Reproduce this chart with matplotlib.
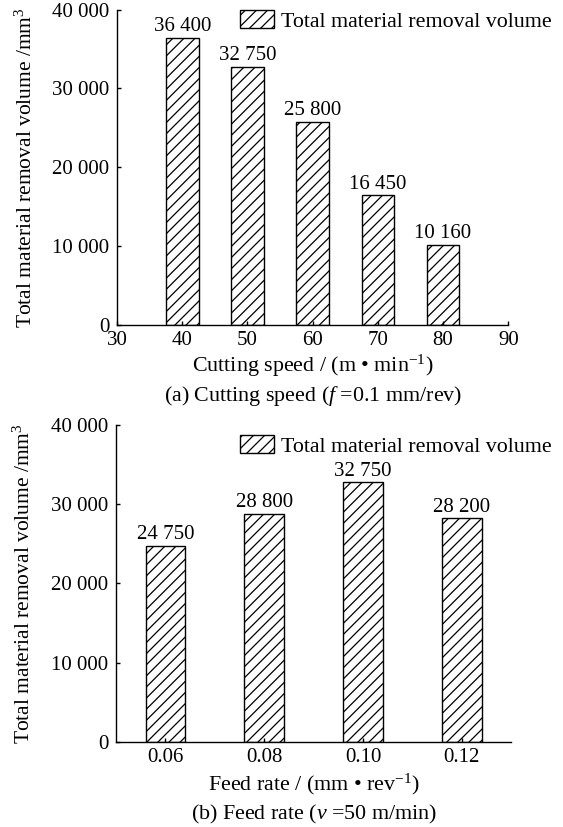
import matplotlib
matplotlib.use("Agg")
import matplotlib.pyplot as plt
from matplotlib.patches import Patch

plt.rcParams["font.family"] = "Liberation Serif"
plt.rcParams["mathtext.fontset"] = "custom"
plt.rcParams["mathtext.rm"] = "Liberation Serif"
plt.rcParams["mathtext.it"] = "Liberation Serif:italic"
plt.rcParams["hatch.linewidth"] = 0.9
plt.rcParams["hatch.color"] = "black"

FS = 15      # tick and value labels
FS_L = 15.8  # axis titles, captions, legend

# (a) cutting speed series
speed = [40, 50, 60, 70, 80]
speed_volume = [36400, 32750, 25800, 16450, 10160]
speed_ticks = [30, 40, 50, 60, 70, 80, 90]

# (b) feed rate series
feed_labels = ["0.06", "0.08", "0.10", "0.12"]
feed_volume = [24750, 28800, 32750, 28200]

y_ticks = [0, 10000, 20000, 30000, 40000]
legend_label = "Total material removal volume"
ylabel = "Total material removal volume /mm$^3$"


def fmt(v):
    return f"{v:,}".replace(",", " ")


def style_axes(ax):
    for s in ("top", "right"):
        ax.spines[s].set_visible(False)
    for s in ("left", "bottom"):
        ax.spines[s].set_linewidth(1.0)
    ax.tick_params(axis="both", direction="in", length=3, width=1.0, labelsize=FS)
    ax.tick_params(axis="y", pad=5.5)
    ax.tick_params(axis="x", pad=4.5)
    ax.set_ylim(0, 40000)
    ax.set_yticks(y_ticks)
    ax.set_yticklabels([fmt(v) for v in y_ticks])
    ax.set_ylabel(ylabel, fontsize=15.5)
    ax.yaxis.set_label_coords(-0.205, 0.5)


def add_values(ax, xs, vals):
    for x, v in zip(xs, vals):
        ax.annotate(fmt(v), xy=(x, v), xytext=(0, 4.8), textcoords="offset points",
                    ha="center", va="baseline", fontsize=FS)


def add_texts(ax, xlabel, caption, off_label, off_caption):
    # offsets are given in pixels below the x axis (figure at 100 dpi)
    k = 72 / 100
    ax.annotate(xlabel, xy=(0.5, 0), xycoords="axes fraction", xytext=(0, -off_label * k),
                textcoords="offset points", ha="center", va="baseline", fontsize=FS_L)
    ax.annotate(caption, xy=(0.5, 0), xycoords="axes fraction", xytext=(0, -off_caption * k),
                textcoords="offset points", ha="center", va="baseline", fontsize=FS_L)


def add_legend(ax, x, y):
    h = Patch(facecolor="white", edgecolor="black", hatch="///", linewidth=1.0)
    ax.legend([h], [legend_label], loc="center left", bbox_to_anchor=(x, y),
              frameon=False, fontsize=FS_L, borderpad=0, borderaxespad=0,
              handlelength=1.55, handleheight=0.85, handletextpad=0.33)


fig = plt.figure(figsize=(5.63, 8.27), dpi=100)

# (a) Cutting speed
ax1 = fig.add_axes([0.2078, 0.6070, 0.6950, 0.3815])
ax1.bar(speed, speed_volume, width=5, facecolor="white", edgecolor="black",
        hatch="///", linewidth=1.0)
ax1.set_xlim(30, 90)
ax1.set_xticks(speed_ticks)
style_axes(ax1)
add_values(ax1, speed, speed_volume)
add_texts(ax1, "Cutting speed / (m \u2022 min$^{-1}$)",
          "(a) Cutting speed ($f$ =0.1 mm/rev)", 47, 75.5)
add_legend(ax1, 0.314, 0.9635)

# (b) Feed rate
ax2 = fig.add_axes([0.2060, 0.1031, 0.7021, 0.3830])
xpos = list(range(len(feed_labels)))
ax2.bar(xpos, feed_volume, width=0.4, facecolor="white", edgecolor="black",
        hatch="///", linewidth=1.0)
ax2.set_xlim(-0.5, 3.5)
ax2.set_xticks(xpos)
ax2.set_xticklabels(feed_labels)
style_axes(ax2)
add_values(ax2, xpos, feed_volume)
add_texts(ax2, "Feed rate / (mm \u2022 rev$^{-1}$)",
          "(b) Feed rate ($v$ =50 m/min)", 49, 77.5)
add_legend(ax2, 0.3137, 0.9337)

fig.savefig("out.png", dpi=100)
